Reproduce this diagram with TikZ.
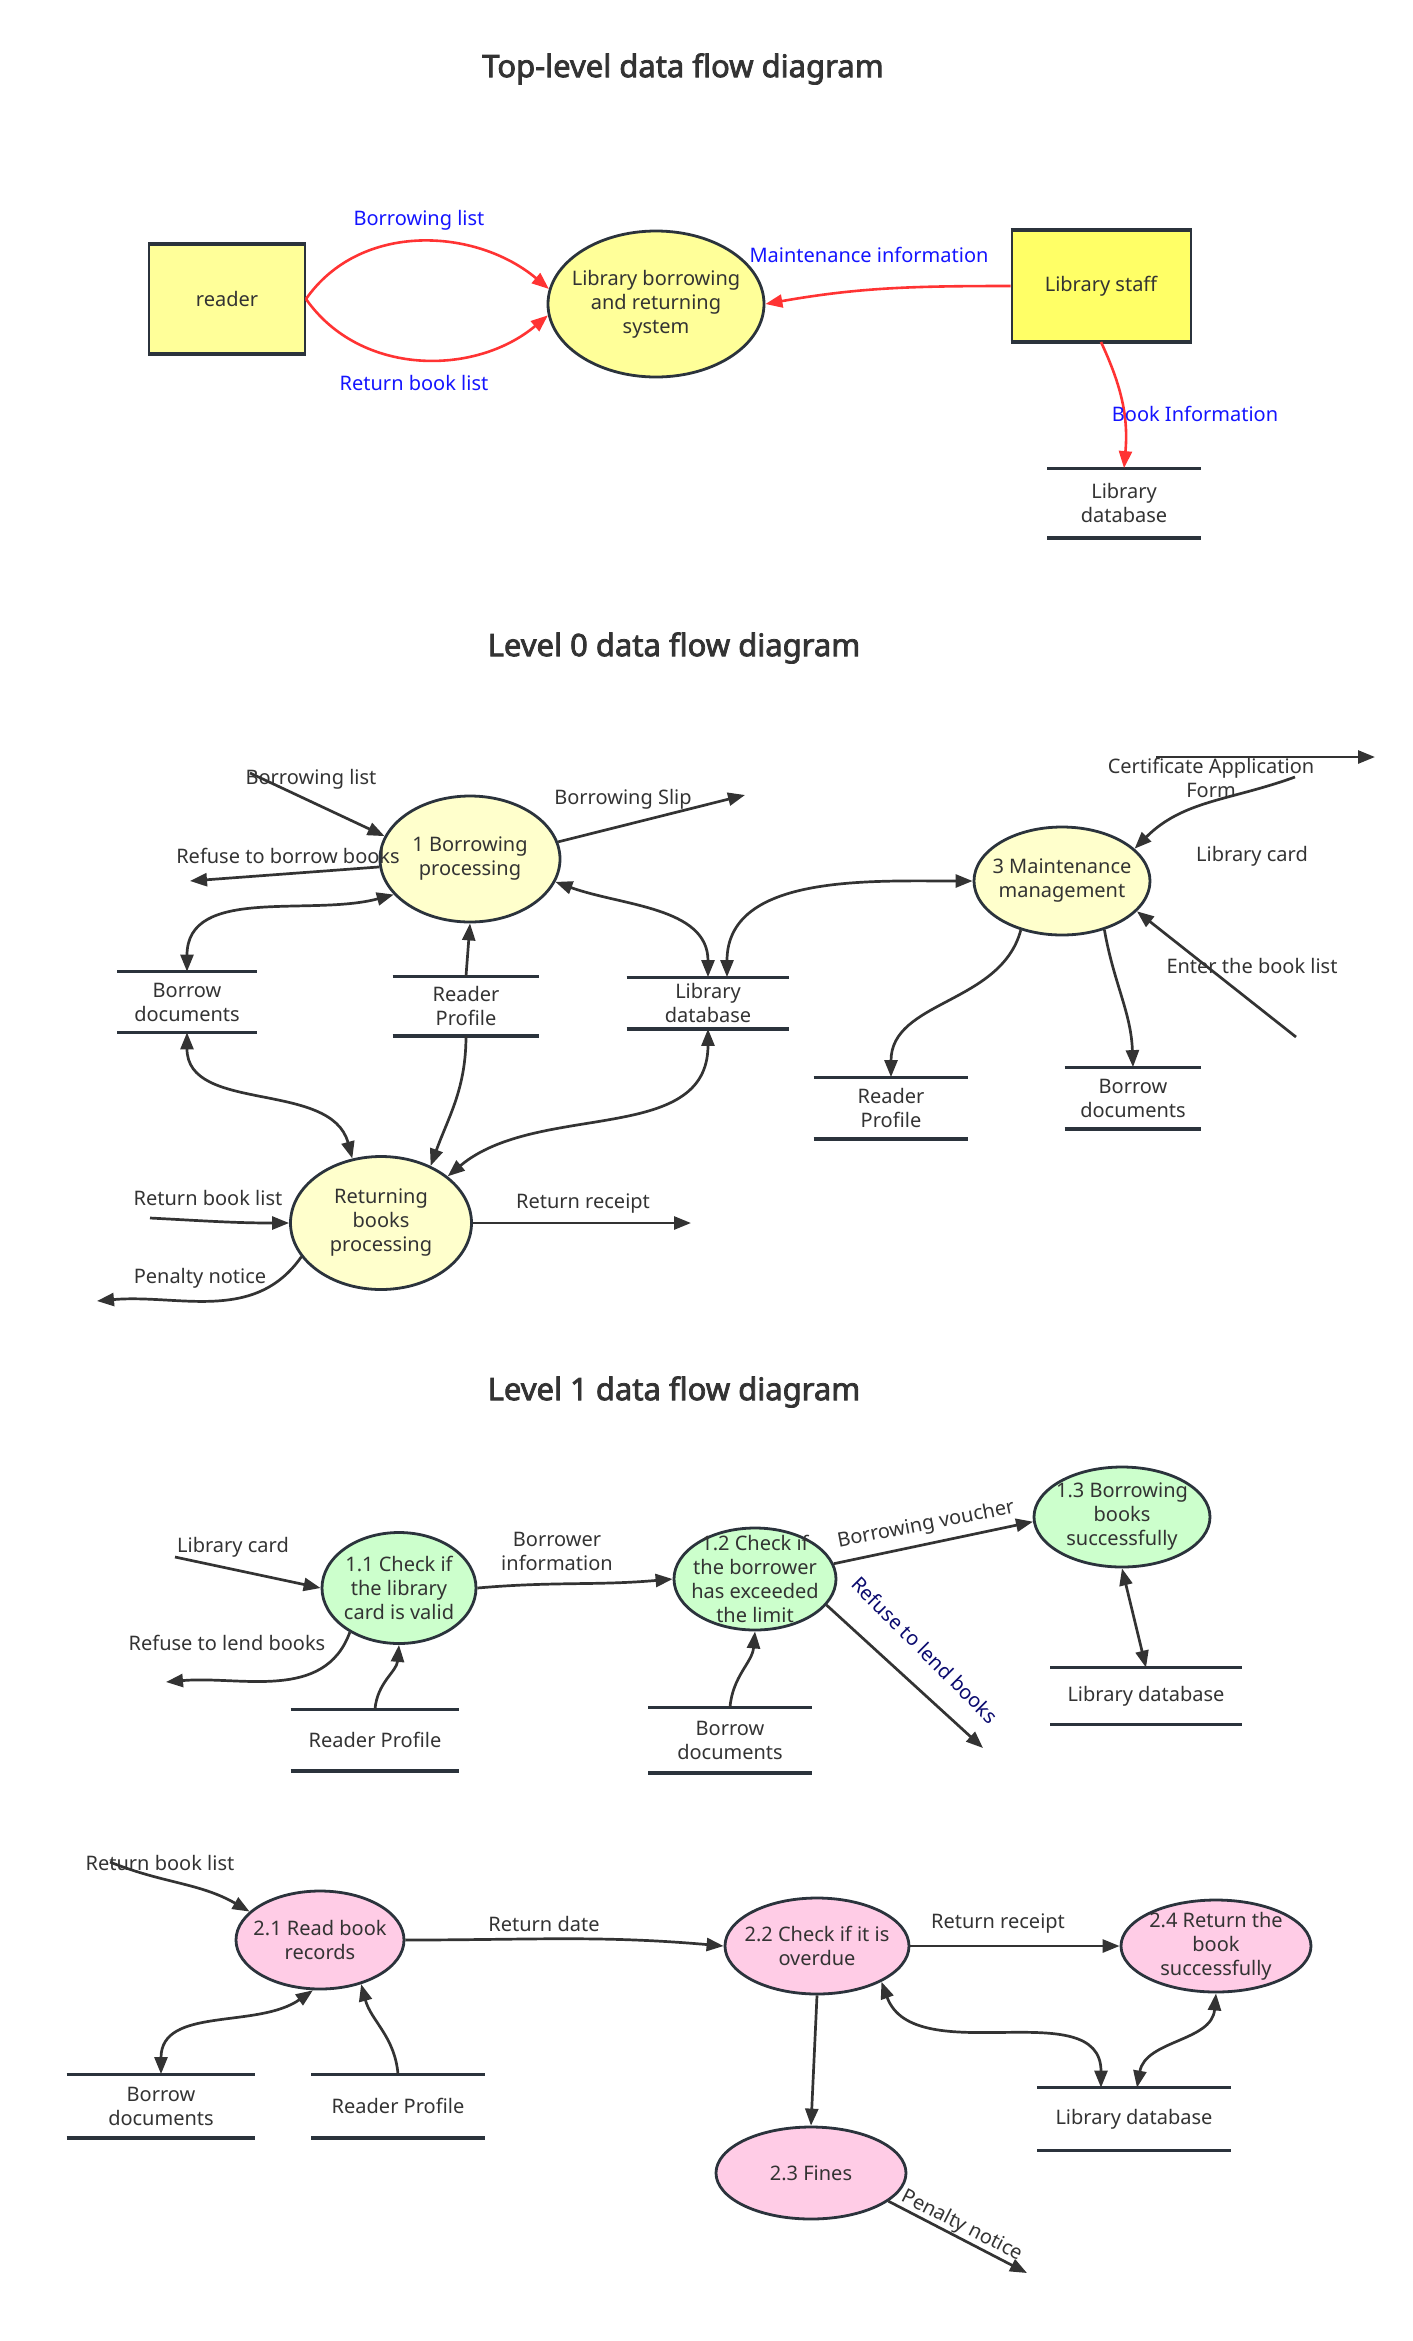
\documentclass[tikz,border=0pt]{standalone}
\usepackage{fontspec}
\setmainfont{Noto Sans}[AutoFakeBold=2.5]
\usetikzlibrary{shapes.geometric,arrows.meta}
\definecolor{dfdink}{HTML}{333333}
\definecolor{dfdline}{HTML}{2B333C}
\definecolor{dfdred}{HTML}{FF3333}
\definecolor{dfdblue}{HTML}{1414FF}
\definecolor{dfdnavy}{HTML}{0A0A6E}
\definecolor{dfdpale}{HTML}{FFFF99}
\definecolor{dfdlemon}{HTML}{FFFF66}
\definecolor{dfdcream}{HTML}{FFFFCC}
\definecolor{dfdmint}{HTML}{CCFFCC}
\definecolor{dfdpink}{HTML}{FFCCE6}

\tikzset{
  heading/.style={font=\fontsize{15.5}{18}\selectfont\bfseries, text=dfdink},
  proc/.style={ellipse, draw=dfdline, line width=1.4pt, inner sep=-8pt, align=center, text=dfdink},
  thickline/.style={draw=dfdline, line width=2.2pt},
  entity/.style={rectangle, draw=dfdline, line width=1pt, inner sep=0pt, align=center, text=dfdink,
    append after command={(\tikzlastnode.north west) edge[thickline] (\tikzlastnode.north east)
      (\tikzlastnode.south west) edge[thickline] (\tikzlastnode.south east)}},
  storeline/.style={draw=dfdline, line width=1.6pt, -},
  store/.style 2 args={inner sep=0pt, minimum width=#1, minimum height=#2, align=center, text=dfdink,
    append after command={(\tikzlastnode.north west) edge[storeline] (\tikzlastnode.north east)
      (\tikzlastnode.south west) edge[storeline] (\tikzlastnode.south east)}},
  flow/.style={draw=dfdink, line width=1.35pt, ->},
  redflow/.style={draw=dfdred, line width=1.3pt, ->},
  lbl/.style={text=dfdink, inner sep=1pt},
  bluelbl/.style={text=dfdblue, inner sep=1pt}
}

\begin{document}
\begin{tikzpicture}[x=0.5pt, y=-0.5pt, font=\fontsize{10}{12}\selectfont,
  >={Triangle[length=8.5pt,width=6.5pt]}]
  \useasboundingbox (0,0) rectangle (1413,2341);

  % Top-level diagram
  \node[heading] (t0) at (683,69) {Top-level data flow diagram};
  \node[entity, fill=dfdpale, minimum width=78pt, minimum height=54pt] (reader) at (227,299) {reader};
  \node[proc, fill=dfdpale, minimum width=108pt, minimum height=73pt] (sys) at (656,304) {Library borrowing\\and returning\\system};
  \node[entity, fill=dfdlemon, minimum width=89.5pt, minimum height=55pt] (staff) at (1101,286) {Library staff};
  \node[store={76.5pt}{34.5pt}] (db0) at (1124,503) {Library\\database};

  \draw[redflow] (reader.east) to[out=55,in=140] (sys.172);
  \draw[redflow] (reader.east) to[out=-55,in=-140] (sys.186);
  \draw[redflow] (staff.west) to[out=180,in=10] (sys.east);
  \draw[redflow] (staff.south) to[out=-65,in=85] (db0.north);

  \node[bluelbl] at (419,220) {Borrowing list};
  \node[bluelbl] at (414,383) {Return book list};
  \node[bluelbl] at (869,255) {Maintenance information};
  \node[bluelbl] at (1195,414) {Book Information};

  % Level 0 diagram
  \node[heading] (t1) at (674,648) {Level 0 data flow diagram};
  \node[proc, fill=dfdcream, minimum width=90pt, minimum height=63pt] (p1) at (470,859) {1 Borrowing\\processing};
  \node[proc, fill=dfdcream, minimum width=90.5pt, minimum height=66.5pt] (p2) at (381,1223) {Returning\\books\\processing};
  \node[proc, fill=dfdcream, minimum width=88pt, minimum height=54pt] (p3) at (1062,881) {3 Maintenance\\management};
  \node[store={69.5pt}{30pt}] (bd0) at (187,1002) {Borrow\\documents};
  \node[store={73pt}{29.5pt}] (rp0) at (466,1006) {Reader\\Profile};
  \node[store={81pt}{25.5pt}] (ld0) at (708,1003) {Library\\database};
  \node[store={77pt}{30.5pt}] (rp0b) at (891,1108) {Reader\\Profile};
  \node[store={68pt}{30.5pt}] (bd0b) at (1133,1098) {Borrow\\documents};

  \coordinate (blIn) at (250,773);
  \coordinate (bsOut) at (745,795);
  \coordinate (rbOut) at (190,881);
  \coordinate (rlIn) at (150,1218);
  \coordinate (rrOut) at (691,1223);
  \coordinate (pnOut) at (97,1301);
  \coordinate (caIn) at (1295,777);
  \coordinate (lcA) at (1156,757);
  \coordinate (lcB) at (1375,757);
  \coordinate (ebIn) at (1296,1037);

  \draw[flow] (blIn) -- (p1.165);
  \draw[flow] (p1.11) -- (bsOut);
  \draw[flow] (p1.185) -- (rbOut);
  \draw[flow, <->] (p1.205) to[out=195,in=90] (bd0.north);
  \draw[flow] (rp0.north) -- (p1.south);
  \draw[flow, <->] (p1.345) to[out=-20,in=90] (ld0.north);
  \draw[flow, <->] ([xshift=9.5pt]ld0.north) to[out=90,in=180] (p3.west);
  \draw[flow, <->] (bd0.south) to[out=-90,in=105] (p2.114);
  \draw[flow] (rp0.south) to[out=-90,in=70] (p2.49);
  \draw[flow, <->] (ld0.south) to[out=-90,in=40] (p2.35);
  \draw[flow] (rlIn) to[out=-3,in=180] (p2.west);
  \draw[flow] (p2.east) -- (rrOut);
  \draw[flow] (p2.203) to[out=235,in=5] (pnOut);
  \draw[flow] (p3.230) to[out=-105,in=90] (rp0b.north);
  \draw[flow] (p3.311) to[out=-80,in=92] (bd0b.north);
  \draw[flow] (ebIn) -- (p3.338);
  \draw[flow] (caIn) to[out=200,in=45] (p3.24);
  \draw[flow] (lcA) -- (lcB);

  \node[lbl] at (311,779) {Borrowing list};
  \node[lbl] at (623,799) {Borrowing Slip};
  \node[lbl] at (288,856) {Refuse to borrow books};
  \node[lbl] at (208,1198) {Return book list};
  \node[lbl] at (583,1204) {Return receipt};
  \node[lbl] at (200,1278) {Penalty notice};
  \node[lbl, align=center] at (1211,778) {Certificate Application\\Form};
  \node[lbl] at (1252,856) {Library card};
  \node[lbl] at (1252,966) {Enter the book list};

  % Level 1 diagram
  \node[heading] (t2) at (674,1392) {Level 1 data flow diagram};
  \node[proc, fill=dfdmint, minimum width=77pt, minimum height=55.5pt] (q11) at (399,1588) {1.1 Check if\\the library\\card is valid};
  \node[proc, fill=dfdmint, minimum width=81pt, minimum height=51pt] (q12) at (755,1579) {1.2 Check if\\the borrower\\has exceeded\\the limit};
  \node[proc, fill=dfdmint, minimum width=88pt, minimum height=50pt] (q13) at (1122,1517) {1.3 Borrowing\\books\\successfully};
  \node[store={84pt}{30.5pt}] (rp1) at (375,1740) {Reader Profile};
  \node[store={81.5pt}{32.5pt}] (bd1) at (730,1740) {Borrow\\documents};
  \node[store={95.5pt}{28pt}] (ld1) at (1146,1696) {Library database};

  \coordinate (lcIn) at (175,1557);
  \coordinate (rlOut) at (166,1682);
  \coordinate (rlbOut) at (983,1748);

  \draw[flow] (lcIn) -- (q11.west);
  \draw[flow] (q11.222) to[out=250,in=5] (rlOut);
  \draw[flow] (rp1.north) to[out=85,in=-95] (q11.south);
  \draw[flow] (q11.east) to[out=5,in=185] (q12.west);
  \draw[flow] (bd1.north) to[out=85,in=-95] (q12.south);
  \draw[flow] (q12.11) -- (q13.183);
  \draw[flow] (q12.340) -- (rlbOut);
  \draw[flow, <->] (q13.south) -- (ld1.north);

  \node[lbl] at (233,1547) {Library card};
  \node[lbl] at (227,1643) {Refuse to lend books};
  \node[lbl, align=center] at (557,1551) {Borrower\\information};
  \node[lbl, rotate=11] at (926,1525) {Borrowing voucher};
  \node[lbl, text=dfdnavy, rotate=-45] at (925,1650) {Refuse to lend books};

  \node[proc, fill=dfdpink, minimum width=84pt, minimum height=49pt] (q21) at (320,1940) {2.1 Read book\\records};
  \node[proc, fill=dfdpink, minimum width=92pt, minimum height=48pt] (q22) at (817,1946) {2.2 Check if it is\\overdue};
  \node[proc, fill=dfdpink, minimum width=95pt, minimum height=46pt] (q24) at (1216,1946) {2.4 Return the\\book\\successfully};
  \node[proc, fill=dfdpink, minimum width=95pt, minimum height=46pt] (q23) at (811,2173) {2.3 Fines};
  \node[store={94pt}{31.5pt}] (bd2) at (161,2106) {Borrow\\documents};
  \node[store={86.5pt}{31.5pt}] (rp2) at (398,2106) {Reader Profile};
  \node[store={96.5pt}{31pt}] (ld2) at (1134,2119) {Library database};

  \coordinate (rbIn) at (110,1862);
  \coordinate (pnOut2) at (1027,2273);

  \draw[flow] (rbIn) to[out=-22,in=150] (q21.158);
  \draw[flow] (q21.east) to[out=0,in=175] (q22.west);
  \draw[flow] (q22.east) -- (q24.west);
  \draw[flow, <->] (q21.262) to[out=215,in=90] (bd2.north);
  \draw[flow] (rp2.north) to[out=95,in=-75] (q21.313);
  \draw[flow] (q22.south) -- (q23.north);
  \draw[flow, <->] (q22.331) to[out=-70,in=90] ([xshift=-16.5pt]ld2.north);
  \draw[flow, <->] (q24.south) to[out=-95,in=80] ([xshift=1.5pt]ld2.north);
  \draw[flow] (q23.340) -- (pnOut2);

  \node[lbl] at (160,1863) {Return book list};
  \node[lbl] at (544,1924) {Return date};
  \node[lbl] at (998,1924) {Return receipt};
  \node[lbl, rotate=-27] at (962,2226) {Penalty notice};
\end{tikzpicture}
\end{document}
